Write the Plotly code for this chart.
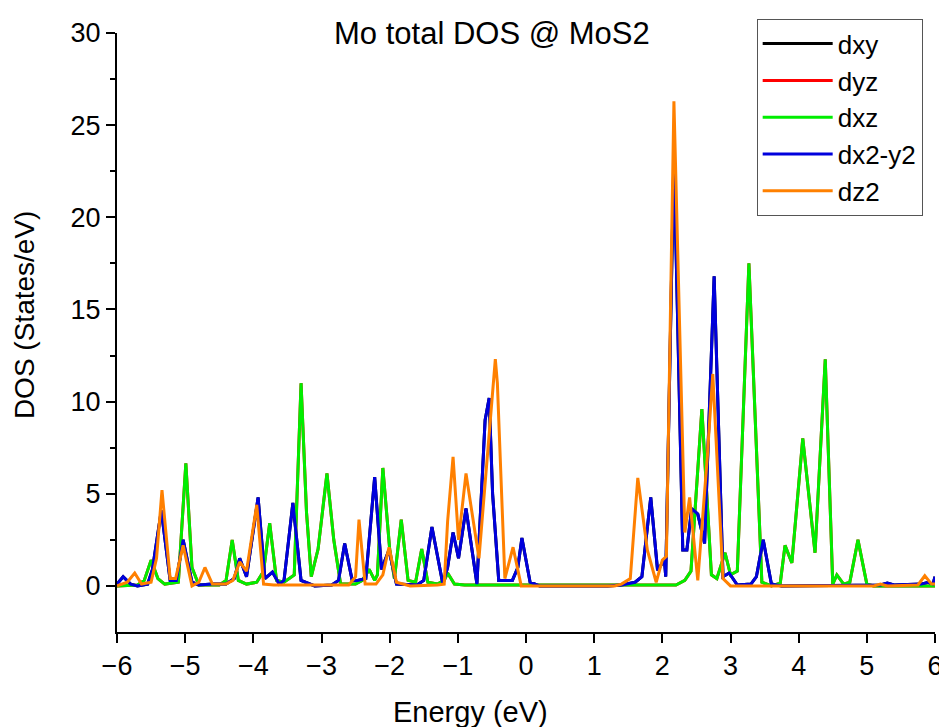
import plotly.graph_objects as go

# d-orbital projected DOS (energy in eV, DOS in states/eV)
dxz_e = [-6.0, -5.7, -5.6, -5.5, -5.4, -5.3, -5.1, -4.99, -4.9, -4.8, -4.5, -4.4, -4.31, -4.22,
         -4.1, -3.95, -3.85, -3.76, -3.66, -3.55, -3.4, -3.3, -3.22, -3.15, -3.05, -2.92, -2.82,
         -2.72, -2.5, -2.4, -2.3, -2.22, -2.18, -2.1, -2.0, -1.93, -1.83, -1.73, -1.62, -1.53,
         -1.44, -1.3, -1.2, -1.15, -1.05, -0.9, 2.2, 2.33, 2.42, 2.58, 2.72, 2.8, 2.92, 3.0,
         3.1, 3.27, 3.46, 3.6, 3.73, 3.8, 3.9, 4.06, 4.24, 4.39, 4.5, 4.56, 4.66, 4.75, 4.87,
         5.0, 5.1, 6.0]
dxz_dos = [0.0, 0.05, 0.3, 1.4, 0.4, 0.1, 0.2, 6.65, 1.0, 0.05, 0.05, 0.3, 2.5, 0.3,
           0.1, 0.2, 0.8, 3.4, 0.3, 0.2, 0.6, 11.0, 4.0, 0.5, 2.0, 6.1, 2.5,
           0.1, 0.1, 0.3, 0.9, 0.3, 0.6, 6.4, 2.0, 0.4, 3.6, 0.3, 0.2, 2.0,
           0.2, 0.1, 0.3, 0.7, 0.1, 0.05, 0.05, 0.3, 0.8, 9.6, 0.6, 0.4, 1.8, 0.6,
           0.8, 17.5, 0.2, 0.0, 0.15, 2.2, 1.25, 8.0, 1.8, 12.3, 0.1, 0.6, 0.1, 0.2, 2.5,
           0.1, 0.0, 0.0]

dx2y2_e = [-6.0, -5.91, -5.8, -5.7, -5.55, -5.48, -5.35, -5.22, -5.13, -5.03, -4.9, -4.8,
           -4.6, -4.4, -4.28, -4.2, -4.1, -3.93, -3.83, -3.72, -3.62, -3.55, -3.42, -3.3,
           -3.1, -2.85, -2.75, -2.66, -2.55, -2.47, -2.35, -2.22, -2.12, -2.01, -1.9, -1.6,
           -1.5, -1.38, -1.22, -1.15, -1.07, -0.99, -0.88, -0.72, -0.6, -0.54, -0.49, -0.4,
           -0.2, -0.12, -0.06, 0.06, 0.2, 1.2, 1.4, 1.6, 1.7, 1.83, 1.93, 2.03, 2.05, 2.17,
           2.3, 2.36, 2.43, 2.52, 2.62, 2.76, 2.89, 2.98, 3.1, 3.3, 3.38, 3.48, 3.6, 3.75,
           5.2, 5.3, 5.4, 5.8, 5.9, 5.97, 6.0]
dx2y2_dos = [0.1, 0.5, 0.1, 0.0, 0.1, 0.9, 4.1, 0.3, 0.3, 2.5, 0.2, 0.05,
             0.1, 0.1, 0.4, 1.5, 0.5, 4.8, 0.4, 0.75, 0.1, 0.3, 4.5, 0.3,
             0.0, 0.05, 0.3, 2.3, 0.3, 0.3, 0.4, 5.9, 0.9, 1.95, 0.1, 0.05,
             0.3, 3.2, 0.1, 1.0, 2.9, 1.5, 4.2, 0.1, 9.0, 10.2, 5.0, 0.3,
             0.3, 1.0, 2.6, 0.2, 0.0, 0.0, 0.05, 0.2, 0.5, 4.8, 0.85, 1.4, 0.5, 23.4,
             1.95, 1.95, 4.2, 3.9, 2.3, 16.8, 0.5, 0.7, 0.05, 0.1, 0.5, 2.5, 0.1, 0.0,
             0.05, 0.15, 0.05, 0.1, 0.2, 0.1, 0.5]

dz2_e = [-6.0, -5.85, -5.74, -5.64, -5.5, -5.42, -5.34, -5.22, -5.14, -5.03, -4.9, -4.8,
         -4.71, -4.6, -4.4, -4.3, -4.2, -4.1, -3.95, -3.85, -3.7, -2.6, -2.5, -2.45, -2.36,
         -2.2, -2.1, -2.01, -1.9, -1.7, -1.3, -1.2, -1.15, -1.07, -0.99, -0.88, -0.69,
         -0.55, -0.45, -0.42, -0.31, -0.19, -0.07, 1.3, 1.4, 1.53, 1.64, 1.78, 1.91, 2.0,
         2.06, 2.17, 2.33, 2.4, 2.52, 2.66, 2.74, 2.89, 3.0, 5.1, 5.2, 5.3, 5.75, 5.85,
         5.95, 6.0]
dz2_dos = [0.0, 0.2, 0.7, 0.1, 0.2, 1.5, 5.2, 0.4, 0.4, 2.2, 0.0, 0.2,
           1.0, 0.1, 0.1, 0.3, 1.3, 0.8, 4.4, 0.1, 0.05, 0.05, 0.5, 3.6, 0.1,
           0.1, 0.6, 2.1, 0.2, 0.0, 0.05, 0.1, 3.5, 7.0, 2.5, 6.1, 1.5,
           8.0, 12.3, 11.0, 0.4, 2.1, 0.0, 0.0, 0.1, 0.4, 5.86, 1.95, 0.2, 1.4,
           1.6, 26.3, 2.9, 4.8, 0.3, 7.0, 11.5, 0.4, 0.0, 0.0, 0.1, 0.0, 0.05, 0.55,
           0.1, 0.1]

# dxy is degenerate with dx2-y2 and dyz with dxz, so they sit underneath
series = [
    ("dxy", dx2y2_e, dx2y2_dos, "black"),
    ("dyz", dxz_e, dxz_dos, "#FF0000"),
    ("dxz", dxz_e, dxz_dos, "#00EE00"),
    ("dx2-y2", dx2y2_e, dx2y2_dos, "#0000DD"),
    ("dz2", dz2_e, dz2_dos, "#FF8000"),
]

fig = go.Figure()
for name, e, dos, color in series:
    fig.add_trace(
        go.Scatter(x=e, y=dos, name=name, mode="lines", line=dict(color=color, width=3))
    )

# page body has an 8px margin, so the figure is a bit smaller than the window
font = "Liberation Sans, Arial, sans-serif"
fig.update_layout(
    width=939,
    height=719,
    margin=dict(l=109, r=12, t=25, b=95, autoexpand=False),
    paper_bgcolor="white",
    plot_bgcolor="white",
    font=dict(family=font, size=27, color="black"),
    showlegend=True,
    legend=dict(
        x=0.782, y=1.023, xanchor="left", yanchor="top",
        bordercolor="#555555", borderwidth=1, bgcolor="white",
        font=dict(size=26), itemwidth=70,
    ),
    annotations=[
        dict(text="Mo total DOS @ MoS2", xref="paper", yref="paper", x=0.459, y=1.0,
             xanchor="center", yanchor="middle", showarrow=False, font=dict(size=31)),
        dict(text="Energy (eV)", xref="paper", yref="paper", x=0.432, y=-0.134,
             xanchor="center", yanchor="middle", showarrow=False, font=dict(size=29)),
        dict(text="DOS (States/eV)", xref="paper", yref="paper", x=-0.113, y=0.53,
             xanchor="center", yanchor="middle", showarrow=False, textangle=-90,
             font=dict(size=28)),
    ],
)
fig.update_xaxes(
    range=[-6, 6], dtick=1, tick0=-6, showgrid=False, zeroline=False,
    showline=True, linecolor="black", linewidth=2,
    ticks="outside", ticklen=9, tickwidth=2, tickcolor="black",
)
fig.update_yaxes(
    range=[-2.5, 30], tickvals=[0, 5, 10, 15, 20, 25, 30], showgrid=False, zeroline=False,
    showline=True, linecolor="black", linewidth=2,
    ticks="outside", ticklen=9, tickwidth=2, tickcolor="black",
    minor=dict(tickvals=[2.5, 7.5, 12.5, 17.5, 22.5, 27.5], ticks="outside", ticklen=5,
               tickwidth=2, tickcolor="black"),
)

fig.write_html("out.html")
